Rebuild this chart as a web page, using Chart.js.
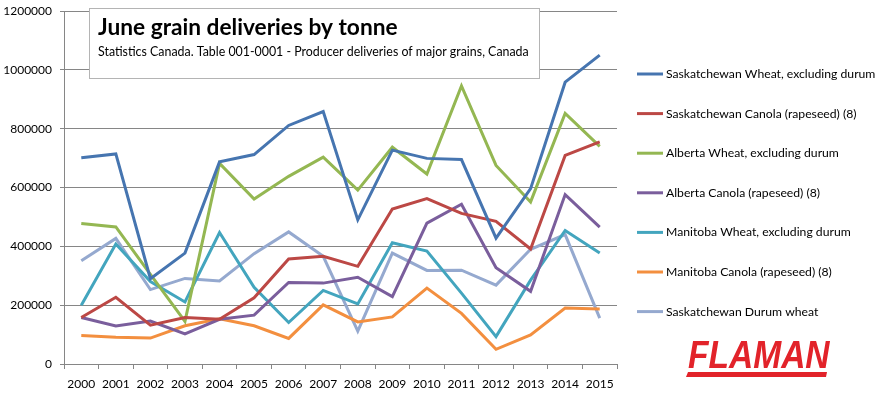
<!DOCTYPE html>
<html>
<head>
<meta charset="utf-8">
<title>June grain deliveries by tonne</title>
<script src="https://cdn.jsdelivr.net/npm/chart.js@4/dist/chart.umd.min.js"></script>
<style>
  html, body { margin: 0; padding: 0; background: #fff; }
  #grainChart { display: block; }
</style>
</head>
<body>
<canvas id="grainChart" width="883" height="395"></canvas>
<script>
// categories
const years = ['2000', '2001', '2002', '2003', '2004', '2005', '2006', '2007',
  '2008', '2009', '2010', '2011', '2012', '2013', '2014', '2015'];

// series (tonnes)
const saskWheat = [701000, 714000, 290000, 377000, 687000, 712000, 811000, 858000,
  490000, 727000, 699000, 695000, 428000, 596000, 958000, 1050000];
const saskCanola = [158000, 227000, 132000, 158000, 152000, 225000, 357000, 366000,
  332000, 527000, 562000, 512000, 485000, 391000, 709000, 755000];
const albertaWheat = [478000, 466000, 305000, 145000, 682000, 561000, 638000, 703000,
  591000, 737000, 646000, 945000, 675000, 551000, 852000, 740000];
const albertaCanola = [158000, 129000, 146000, 102000, 152000, 166000, 277000, 275000,
  295000, 229000, 479000, 543000, 327000, 247000, 576000, 465000];
const manitobaWheat = [200000, 408000, 280000, 211000, 447000, 261000, 141000, 250000,
  204000, 412000, 384000, 241000, 93000, 285000, 454000, 377000];
const manitobaCanola = [97000, 91000, 88000, 130000, 154000, 130000, 87000, 201000,
  143000, 160000, 258000, 172000, 50000, 99000, 190000, 187000];
const saskDurum = [351000, 427000, 253000, 291000, 282000, 375000, 449000, 366000,
  112000, 377000, 318000, 319000, 268000, 390000, 440000, 156000];

const seriesNames = [
  'Saskatchewan Wheat, excluding durum',
  'Saskatchewan Canola (rapeseed) (8)',
  'Alberta Wheat, excluding durum',
  'Alberta Canola (rapeseed) (8)',
  'Manitoba Wheat, excluding durum',
  'Manitoba Canola (rapeseed) (8)',
  'Saskatchewan Durum wheat'
];
const seriesColors = ['#4675b0', '#bc4845', '#94b752', '#7a5e9c', '#43a5be', '#f38f3f', '#95a9cf'];

// y axis ticks
const yMax = 1200000;
const yStep = 200000;

const titleText = 'June grain deliveries by tonne';
const subtitleText = 'Statistics Canada. Table 001-0001 - Producer deliveries of major grains, Canada';

const axisGray = '#868686';
const fontFamily = 'Lato, "Open Sans", sans-serif';

// title box over the plot, top left
const titleBox = {
  id: 'titleBox',
  afterDatasetsDraw(chart) {
    const ctx = chart.ctx;
    ctx.save();
    ctx.fillStyle = '#fff';
    ctx.strokeStyle = '#b4b4b4';
    ctx.lineWidth = 1;
    ctx.fillRect(89.5, 8.5, 450, 70);
    ctx.strokeRect(89.5, 8.5, 450, 70);
    ctx.fillStyle = '#000';
    ctx.textBaseline = 'alphabetic';
    ctx.font = 'bold 22.7px ' + fontFamily;
    ctx.fillText(titleText, 98, 35);
    ctx.font = '12.4px ' + fontFamily;
    ctx.fillText(subtitleText, 98, 55.5);
    ctx.restore();
  }
};

// legend on the right, one row per series
const sideLegend = {
  id: 'sideLegend',
  afterDraw(chart) {
    const ctx = chart.ctx;
    ctx.save();
    ctx.font = '12.2px ' + fontFamily;
    ctx.textBaseline = 'middle';
    chart.data.datasets.forEach((ds, i) => {
      const y = 74 + i * 39.6;
      ctx.strokeStyle = ds.borderColor;
      ctx.lineWidth = 3;
      ctx.beginPath();
      ctx.moveTo(637, y);
      ctx.lineTo(663, y);
      ctx.stroke();
      ctx.fillStyle = '#000';
      ctx.fillText(ds.label, 666, y);
    });
    ctx.restore();
  }
};

// red logo, bottom right
const logo = {
  id: 'logo',
  afterDraw(chart) {
    const ctx = chart.ctx;
    ctx.save();
    ctx.fillStyle = '#e2232a';
    ctx.translate(688, 368);
    ctx.scale(0.86, 1);
    ctx.font = 'italic bold 39px "Liberation Sans", Arial, sans-serif';
    ctx.textBaseline = 'alphabetic';
    ctx.fillText('FLAMAN', 0, 0);
    ctx.restore();
    ctx.save();
    ctx.fillStyle = '#e2232a';
    ctx.beginPath();
    ctx.moveTo(688, 372);
    ctx.lineTo(827, 372);
    ctx.lineTo(826, 377);
    ctx.lineTo(686, 377);
    ctx.closePath();
    ctx.fill();
    ctx.restore();
  }
};

const seriesData = [saskWheat, saskCanola, albertaWheat, albertaCanola, manitobaWheat, manitobaCanola, saskDurum];

const ctxGrain = document.getElementById('grainChart');

new Chart(ctxGrain, {
  type: 'line',
  data: {
    labels: years,
    datasets: seriesData.map((values, i) => ({
      label: seriesNames[i],
      data: values,
      borderColor: seriesColors[i],
      backgroundColor: seriesColors[i],
      borderWidth: 3,
      pointRadius: 0,
      tension: 0,
      fill: false
    }))
  },
  options: {
    responsive: false,
    animation: false,
    layout: {
      padding: { left: 4, right: 266, top: 11, bottom: 5 }
    },
    plugins: {
      legend: { display: false },
      title: { display: false },
      tooltip: { enabled: false }
    },
    scales: {
      x: {
        offset: true,
        grid: {
          offset: true,
          drawOnChartArea: false,
          tickLength: 5,
          color: axisGray
        },
        border: { color: axisGray },
        ticks: {
          color: '#000',
          padding: 8,
          maxRotation: 0,
          autoSkip: false,
          font: { family: fontFamily, size: 12 }
        },
        afterFit(scale) {
          scale.height = 26;
          scale.paddingLeft = 0;
          scale.paddingRight = 0;
        }
      },
      y: {
        min: 0,
        max: yMax,
        grid: {
          color: axisGray,
          tickLength: 4
        },
        border: { color: axisGray },
        ticks: {
          stepSize: yStep,
          color: '#000',
          padding: 8,
          font: { family: fontFamily, size: 12 },
          callback: (v) => String(v)
        },
        afterFit(scale) {
          scale.width = 60;
          scale.paddingTop = 0;
          scale.paddingBottom = 0;
        }
      }
    }
  },
  plugins: [titleBox, sideLegend, logo]
});
</script>
</body>
</html>
